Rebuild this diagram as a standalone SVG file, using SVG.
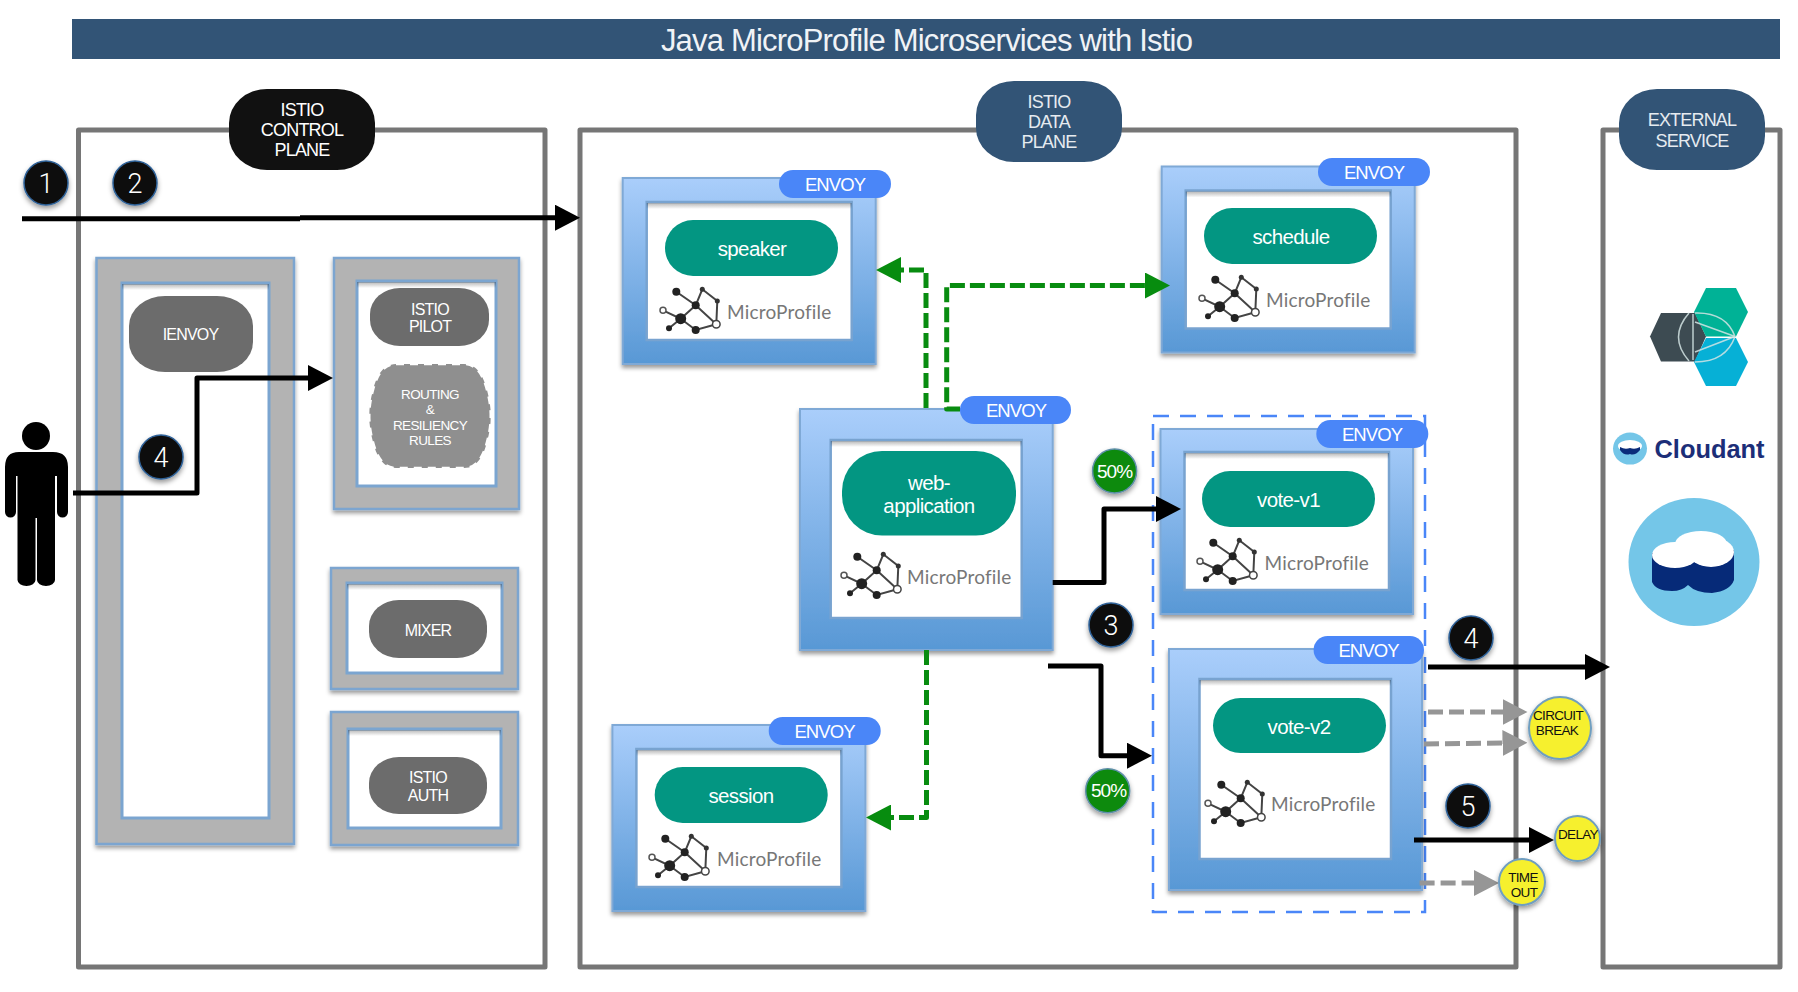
<svg xmlns="http://www.w3.org/2000/svg" xmlns:xlink="http://www.w3.org/1999/xlink" width="1798" height="992" viewBox="0 0 1798 992">
<style>
text{font-family:"Liberation Sans",Arial,sans-serif;text-anchor:middle;fill:#fff}
.frame{fill:none;stroke:#767676;stroke-width:5;stroke-linejoin:round}
.gout{fill:#b3b3b3;stroke:#7ba5d0;stroke-width:2.5;filter:url(#sh)}
.gin{fill:#fff;stroke:#7ba5d0;stroke-width:3}
.bout{fill:url(#blue);stroke:#7fa9d6;stroke-width:2;filter:url(#sh)}
.bin{fill:#fff;stroke:#78a3d0;stroke-width:2.5}
.top{fill:url(#ish)}
.pill{fill:#039682}
.env{fill:#4a86f8}
.gp{fill:#6c6c6c}
.t-env{font-size:18.5px;letter-spacing:-.05em}
.t-svc{font-size:20.5px;letter-spacing:-.03em}
.t-hd{font-size:18px;letter-spacing:-.045em}
.t-g{font-size:16px;letter-spacing:-.05em}
.t-r{font-size:13.5px;letter-spacing:-.045em}
.mp{font-family:"Lato","Liberation Sans",sans-serif;font-size:19px;fill:#777;text-anchor:start;letter-spacing:.01em}
.num{fill:#111;stroke:#2f6299;stroke-width:1.5;filter:url(#sh2)}
.t-num{font-family:Roboto,"Liberation Sans",sans-serif;font-weight:300;font-size:27px}
.pct{fill:#078a10;stroke:#5f8fa8;stroke-width:1.5;filter:url(#sh2)}
.t-pct{font-size:19px;letter-spacing:-.05em}
.yel{fill:#f6f02f;stroke:#6f9ec0;stroke-width:2;filter:url(#sh2)}
.t-y{font-size:13.5px;fill:#111;letter-spacing:-.05em}
.c{fill:none;stroke-linejoin:round}
.k{stroke:#000;stroke-width:5;marker-end:url(#ak)}
.k0{stroke:#000;stroke-width:5}
.gd{stroke:#088c10;stroke-width:5;stroke-dasharray:15 5;marker-end:url(#ag)}
.ad{stroke:#969696;stroke-width:5;stroke-dasharray:15 6;marker-end:url(#aa)}
</style>
<defs>
<linearGradient id="blue" x1="0" y1="0" x2="0" y2="1"><stop offset="0" stop-color="#aacefb"/><stop offset="1" stop-color="#5898d5"/></linearGradient>
<linearGradient id="ish" x1="0" y1="0" x2="0" y2="1"><stop offset="0" stop-color="#000" stop-opacity=".28"/><stop offset="1" stop-color="#000" stop-opacity="0"/></linearGradient>
<filter id="sh" x="-10%" y="-10%" width="120%" height="120%"><feDropShadow dx="0" dy="3" stdDeviation="2" flood-color="#000" flood-opacity=".4"/></filter>
<filter id="sh2" x="-30%" y="-30%" width="160%" height="160%"><feDropShadow dx="0" dy="3" stdDeviation="2.5" flood-color="#000" flood-opacity=".4"/></filter>
<marker id="ak" markerUnits="userSpaceOnUse" markerWidth="25" markerHeight="26" viewBox="0 0 25 26" refX="2" refY="13" orient="auto"><path d="M0 0L25 13L0 26Z" fill="#000"/></marker>
<marker id="ag" markerUnits="userSpaceOnUse" markerWidth="25" markerHeight="26" viewBox="0 0 25 26" refX="2" refY="13" orient="auto"><path d="M0 0L25 13L0 26Z" fill="#078c0f"/></marker>
<marker id="aa" markerUnits="userSpaceOnUse" markerWidth="25" markerHeight="26" viewBox="0 0 25 26" refX="2" refY="13" orient="auto"><path d="M0 0L25 13L0 26Z" fill="#969696"/></marker>
<g id="mpicon">
<path d="M17.3 4.7L36.7 18.3L57.3 37.3M36.7 18.3L21.7 31.7L4 23.3M21.7 31.7L10 41.3M21.7 31.7L36.7 43L57.3 37.3M36.7 18.3L43.3 2.3L58.3 14L57.3 37.3" fill="none" stroke="#444" stroke-width="2"/>
<circle cx="21.7" cy="31.700" r="5.500" fill="#222"/><circle cx="36.700" cy="18.300" r="4" fill="#222"/><circle cx="17.300" cy="4.700" r="4" fill="#222"/><circle cx="43.300" cy="2.300" r="2.500" fill="#333"/><circle cx="58.300" cy="14" r="2.500" fill="#333"/><circle cx="36.700" cy="43" r="4" fill="#222"/><circle cx="10" cy="41.300" r="3" fill="#222"/>
<circle cx="57.300" cy="37.300" r="3.800" fill="#fff" stroke="#444" stroke-width="1.500"/><circle cx="4" cy="23.300" r="3" fill="#fff" stroke="#555" stroke-width="1.500"/>
</g>
</defs>
<rect width="1798" height="992" fill="#fff"/>

<g id="title"><rect x="72" y="19" width="1708" height="40" fill="#325476"/><text x="926.5" y="51" font-size="31" style="letter-spacing:-.026em;fill:#f0f3f6">Java MicroProfile Microservices with Istio</text></g>

<g id="frames">
<rect class="frame" x="78.5" y="130" width="466.5" height="837"/>
<rect class="frame" x="580" y="130" width="936" height="837"/>
<rect class="frame" x="1603" y="130" width="177" height="837"/>
</g>

<g id="control-plane-label"><rect x="229" y="89" width="146" height="81" rx="38" ry="34" fill="#111"/><text class="t-hd" x="302" y="116">ISTIO</text><text class="t-hd" x="302" y="136">CONTROL</text><text class="t-hd" x="302" y="156">PLANE</text></g>
<g id="data-plane-label"><rect x="976" y="81" width="146" height="81" rx="38" ry="34" fill="#325476"/><text class="t-hd" x="1049" y="108" style="fill:#e6ebf0">ISTIO</text><text class="t-hd" x="1049" y="128" style="fill:#e6ebf0">DATA</text><text class="t-hd" x="1049" y="148" style="fill:#e6ebf0">PLANE</text></g>
<g id="external-label"><rect x="1619" y="89" width="146" height="81" rx="38" ry="34" fill="#325476"/><text class="t-hd" x="1692" y="126" style="fill:#e6ebf0">EXTERNAL</text><text class="t-hd" x="1692" y="147" style="fill:#e6ebf0">SERVICE</text></g>

<g id="ienvoy"><rect class="gout" x="96.5" y="258" width="197.5" height="586"/><rect class="gin" x="122" y="283" width="147" height="535"/><rect class="top" x="122" y="284" width="147" height="6"/><rect class="gp" x="129" y="296" width="124" height="76" rx="36" ry="30"/><text class="t-g" x="190.5" y="340">IENVOY</text></g>
<g id="istio-pilot"><rect class="gout" x="334" y="258" width="185" height="251"/><rect class="gin" x="357" y="281" width="139" height="205"/><rect class="top" x="357" y="282" width="139" height="6"/><rect class="gp" x="370" y="288" width="119" height="58" rx="30" ry="26"/><text class="t-g" x="430" y="315">ISTIO</text><text class="t-g" x="430" y="332">PILOT</text></g>
<g id="routing"><path d="M396 364H464C478 364 484 378 487 390C492 408 492 424 487 442C484 454 478 468 464 468H396C382 468 376 454 373 442C368 424 368 408 373 390C376 378 382 364 396 364Z" fill="#8f8f8f" stroke="#fff" stroke-width="2.5" stroke-dasharray="8 6"/><text class="t-r" x="430" y="399">ROUTING</text><text class="t-r" x="430" y="414">&amp;</text><text class="t-r" x="430" y="430">RESILIENCY</text><text class="t-r" x="430" y="445">RULES</text></g>
<g id="mixer"><rect class="gout" x="331" y="568" width="187" height="121"/><rect class="gin" x="347" y="583" width="155" height="90"/><rect class="top" x="347" y="584" width="155" height="6"/><rect class="gp" x="369" y="600" width="118" height="58" rx="30" ry="26"/><text class="t-g" x="428" y="636">MIXER</text></g>
<g id="istio-auth"><rect class="gout" x="331" y="712" width="187" height="133"/><rect class="gin" x="348" y="729" width="153" height="99"/><rect class="top" x="348" y="730" width="153" height="6"/><rect class="gp" x="369" y="757" width="118" height="57" rx="30" ry="26"/><text class="t-g" x="428" y="783">ISTIO</text><text class="t-g" x="428" y="801">AUTH</text></g>

<g id="person"><circle cx="36" cy="436" r="14"/><path d="M19 452H53Q68 452 68 467V512a5.500 5.500 0 0 1-11 0V476H55V580a9 6 0 0 1-18 0V518H35.500V580a9 6 0 0 1-18 0V476H16V512a5.500 5.500 0 0 1-11 0V467Q5 452 19 452Z"/></g>

<g id="speaker"><rect class="bout" x="622.7" y="178" width="253" height="186"/><rect class="bin" x="646.7" y="202" width="205" height="138"/><rect class="top" x="646.7" y="203" width="205" height="6"/><rect class="pill" x="665" y="220" width="173" height="56" rx="28"/><text class="t-svc" x="752" y="256">speaker</text><use xlink:href="#mpicon" href="#mpicon" x="659" y="287"/><text class="mp" x="727" y="319">MicroProfile</text><rect class="env" x="779" y="170" width="112" height="28" rx="14"/><text class="t-env" x="835" y="191">ENVOY</text></g>
<g id="schedule"><rect class="bout" x="1161.700" y="166.500" width="253" height="186"/><rect class="bin" x="1185.700" y="190.500" width="205" height="138"/><rect class="top" x="1185.700" y="191.500" width="205" height="6"/><rect class="pill" x="1204" y="208" width="173" height="56" rx="28"/><text class="t-svc" x="1291" y="243.500">schedule</text><use xlink:href="#mpicon" href="#mpicon" x="1198" y="275"/><text class="mp" x="1266" y="307">MicroProfile</text><rect class="env" x="1318" y="158" width="112" height="28" rx="14"/><text class="t-env" x="1374" y="179">ENVOY</text></g>
<g id="web-application"><rect class="bout" x="800" y="409" width="252.700" height="241"/><rect class="bin" x="830.700" y="440" width="191" height="178"/><rect class="top" x="830.700" y="441" width="191" height="6"/><rect class="pill" x="842" y="451" width="174" height="84.500" rx="40"/><text class="t-svc" x="929" y="490">web-</text><text class="t-svc" x="929" y="513">application</text><use xlink:href="#mpicon" href="#mpicon" x="840" y="552"/><text class="mp" x="907" y="584">MicroProfile</text><rect class="env" x="960" y="396" width="111" height="28" rx="14"/><text class="t-env" x="1016" y="417">ENVOY</text></g>
<g id="session"><rect class="bout" x="612.400" y="725" width="253" height="186"/><rect class="bin" x="636.400" y="749" width="205" height="138"/><rect class="top" x="636.400" y="750" width="205" height="6"/><rect class="pill" x="654.700" y="767" width="173" height="56" rx="28"/><text class="t-svc" x="741" y="803">session</text><use xlink:href="#mpicon" href="#mpicon" x="648" y="834"/><text class="mp" x="717" y="866">MicroProfile</text><rect class="env" x="768.700" y="717" width="112" height="28" rx="14"/><text class="t-env" x="824.500" y="738">ENVOY</text></g>

<rect id="vote-group" x="1153" y="416" width="272" height="496" fill="none" stroke="#4a86f8" stroke-width="2.500" stroke-dasharray="16 11"/>

<g id="vote-v1"><rect class="bout" x="1160.500" y="429" width="252.500" height="185"/><rect class="bin" x="1184.500" y="452" width="204.500" height="138"/><rect class="top" x="1184.500" y="453" width="204.500" height="6"/><rect class="pill" x="1202" y="471" width="173" height="56" rx="28"/><text class="t-svc" x="1288.500" y="507">vote-v1</text><use xlink:href="#mpicon" href="#mpicon" x="1196" y="538"/><text class="mp" x="1264.500" y="570">MicroProfile</text><rect class="env" x="1316.300" y="420" width="112" height="28" rx="14"/><text class="t-env" x="1372" y="441">ENVOY</text></g>
<g id="vote-v2"><rect class="bout" x="1169" y="649" width="253" height="241"/><rect class="bin" x="1199.500" y="679" width="191.500" height="180"/><rect class="top" x="1199.500" y="680" width="191.500" height="6"/><rect class="pill" x="1213" y="698" width="173" height="55" rx="27.500"/><text class="t-svc" x="1299" y="734">vote-v2</text><use xlink:href="#mpicon" href="#mpicon" x="1204" y="780"/><text class="mp" x="1271" y="811">MicroProfile</text><rect class="env" x="1313.600" y="636" width="110.400" height="28" rx="14"/><text class="t-env" x="1368.500" y="657">ENVOY</text></g>

<g id="external-services">
<path d="M1650 336.400L1661 313H1695L1706 336.400L1695 361.400H1661Z" fill="#3d4b52"/>
<path d="M1694 312L1706 288H1736L1748 312L1736 336.400H1706Z" fill="#00b296"/>
<path d="M1694 362L1706 338H1736L1748 362L1736 386H1706Z" fill="#06b0d6"/>
<path d="M1689 313Q1668 337 1689 361M1693 314V360M1695 313Q1726 312 1735 336.500M1695 322L1735 336.500M1695 362Q1726 362 1735 336.500M1695 352L1735 336.500" fill="none" stroke="#d4e4e4" stroke-width="1.500" opacity=".85"/>
<ellipse cx="1630" cy="448.600" rx="17" ry="16" fill="#74c6e8"/><ellipse cx="1630" cy="446" rx="12" ry="6" fill="#fff"/><path d="M1620 447q5 3 10 1q5 2 10-1v3q-5 6-10 4q-6 2-10-4Z" fill="#0a2c7a"/>
<text x="1709.500" y="458" font-size="26.500" font-weight="700" textLength="110" lengthAdjust="spacingAndGlyphs" style="fill:#1c2e78">Cloudant</text>
<ellipse cx="1694" cy="562" rx="65.500" ry="64" fill="#74c6e8"/>
<path d="M1652 553V582Q1656 591 1672 591Q1682 591 1688 585Q1696 593 1712 593Q1730 591 1734 580V550Z" fill="#062a78"/>
<ellipse cx="1675" cy="555" rx="23" ry="13" fill="#fff"/><ellipse cx="1711" cy="552" rx="23" ry="15" fill="#fff"/><ellipse cx="1701" cy="544" rx="26" ry="13" fill="#fff"/>
</g>

<g id="connectors">
<path class="c k0" d="M22 218.700H300"/>
<path class="c k" d="M300 217.700H557"/>
<path class="c k" d="M73 493H197V378H310"/>
<path class="c gd" d="M926 408V270H899"/>
<path class="c gd" d="M960 409H946.700V285.500H1147"/>
<path class="c gd" d="M926.500 650V817.500H889"/>
<path class="c k" d="M1052.700 582.500H1104V509H1158"/>
<path class="c k" d="M1048 666H1101V755.700H1129"/>
<path class="c k" d="M1428 667H1587"/>
<path class="c ad" d="M1428 712H1504.500"/>
<path class="c ad" d="M1424 744L1504.500 743"/>
<path class="c ad" d="M1419.600 883H1476"/>
<path class="c k" d="M1414 840H1531"/>
</g>

<g id="step-1"><circle class="num" cx="46" cy="183" r="22"/><text class="t-num" x="46" y="193">1</text></g>
<g id="step-2"><circle class="num" cx="135" cy="183" r="22"/><text class="t-num" x="135" y="193">2</text></g>
<g id="step-4a"><circle class="num" cx="161" cy="457" r="22"/><text class="t-num" x="161" y="467">4</text></g>
<g id="step-3"><circle class="num" cx="1111" cy="625" r="22"/><text class="t-num" x="1111" y="635">3</text></g>
<g id="step-4b"><circle class="num" cx="1471" cy="638" r="22"/><text class="t-num" x="1471" y="648">4</text></g>
<g id="step-5"><circle class="num" cx="1468" cy="806" r="22"/><text class="t-num" x="1468" y="816">5</text></g>
<g id="pct-v1"><circle class="pct" cx="1114.600" cy="471" r="22"/><text class="t-pct" x="1114.600" y="477.500">50%</text></g>
<g id="pct-v2"><circle class="pct" cx="1107.700" cy="790.700" r="22"/><text class="t-pct" x="1108.500" y="797">50%</text></g>
<g id="circuit-break"><circle class="yel" cx="1560" cy="728" r="31"/><text class="t-y" x="1558" y="720">CIRCUIT</text><text class="t-y" x="1557" y="735">BREAK</text></g>
<g id="delay"><circle class="yel" cx="1577.500" cy="838.500" r="22.500"/><text class="t-y" x="1578" y="839">DELAY</text></g>
<g id="time-out"><circle class="yel" cx="1522" cy="882" r="23"/><text class="t-y" x="1523" y="882">TIME</text><text class="t-y" x="1524" y="897">OUT</text></g>
</svg>
